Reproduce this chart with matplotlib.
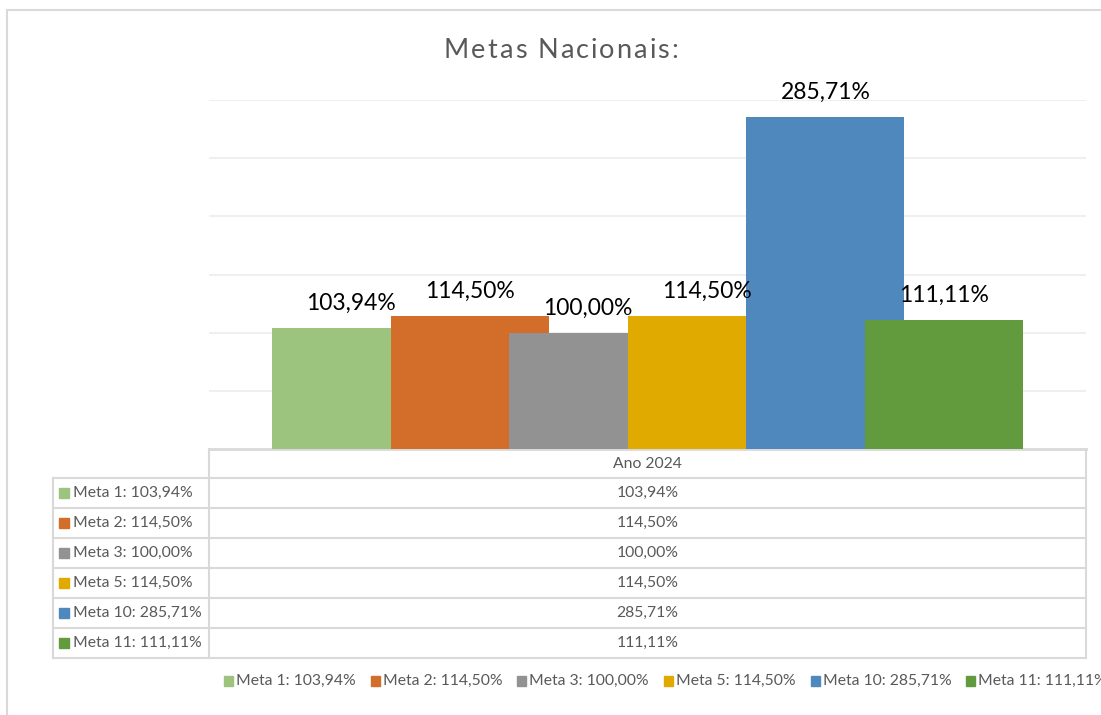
import matplotlib
matplotlib.use("Agg")
from matplotlib import pyplot as plt
from matplotlib.patches import Rectangle

plt.rcParams['font.family'] = ['Lato', 'DejaVu Sans']

metas = ['Meta 1', 'Meta 2', 'Meta 3', 'Meta 5', 'Meta 10', 'Meta 11']
valores = [103.94, 114.50, 100.00, 114.50, 285.71, 111.11]
cores = ['#9dc47f', '#d36e2a', '#929292', '#e1aa00', '#4f88bc', '#629a3e']
categoria = 'Ano 2024'
titulo = 'Metas Nacionais:'


def pct(v):
    return ('%.2f%%' % v).replace('.', ',')


W, H = 1101, 715
fig = plt.figure(figsize=(W / 100, H / 100), dpi=100)

# background axes in pixel coords for frame, table and legend
bg = fig.add_axes([0, 0, 1, 1])
bg.set_xlim(0, W)
bg.set_ylim(H, 0)
bg.axis('off')

# plot area
px_l, px_r, px_top, px_base = 209, 1086, 100, 449
ax = fig.add_axes([px_l / W, (H - px_base) / H, (px_r - px_l) / W, (px_base - px_top) / H])
ax.set_xlim(-0.5, 0.5)
ax.set_ylim(0, 300)
for s in ax.spines.values():
    s.set_visible(False)
ax.set_xticks([])
ax.set_yticks([50, 100, 150, 200, 250, 300])
ax.tick_params(axis='y', length=0, labelleft=False)
ax.grid(axis='y', color='#efefef', linewidth=1.5)
ax.set_axisbelow(True)
ax.patch.set_alpha(0)

n = len(valores)
largura = 0.18
passo = 0.1352
for i, (v, c) in enumerate(zip(valores, cores)):
    x = (i - (n - 1) / 2) * passo
    ax.bar(x, v, width=largura, color=c, zorder=2 + i)
for i, v in enumerate(valores):
    x = (i - (n - 1) / 2) * passo
    ax.annotate(pct(v), (x, v), xytext=(0, 13), textcoords='offset points',
                ha='center', va='baseline', fontsize=16.5, color='#000000', zorder=20)

fig.canvas.draw()
r = fig.canvas.get_renderer()

# title, with letter spacing
tchars = []
total = 0
for ch in titulo:
    t = bg.text(0, 51, ch, ha='left', va='center', fontsize=19.5, color='#595959')
    w = t.get_window_extent(r).width if ch != ' ' else 7
    tchars.append((t, w))
    total += w
esp = 2.0
total += esp * (len(titulo) - 1)
x = 561 - total / 2
for t, w in tchars:
    t.set_x(x)
    x += w + esp

# outer frame
linec = '#d9d9d9'
bg.plot([7, W], [10, 10], color=linec, lw=1.5)
bg.plot([7, 7], [10, H], color=linec, lw=1.5)

# data table
rows_y = [449, 478, 508, 538, 568, 598, 628, 658]
tl, tm, tr = 53, 209, 1086
bg.plot([tm, tr], [rows_y[0], rows_y[0]], color=linec, lw=2)
for y in rows_y[1:]:
    bg.plot([tl, tr], [y, y], color=linec, lw=1.5)
bg.plot([tm, tm], [rows_y[0], rows_y[-1]], color=linec, lw=1.5)
bg.plot([tr, tr], [rows_y[0], rows_y[-1]], color=linec, lw=1.5)
bg.plot([tl, tl], [rows_y[1], rows_y[-1]], color=linec, lw=1.5)

tc = '#595959'
fs = 11.3
bg.text((tm + tr) / 2, (rows_y[0] + rows_y[1]) / 2, categoria, ha='center', va='center',
        fontsize=fs, color=tc)
for i in range(n):
    yc = (rows_y[i + 1] + rows_y[i + 2]) / 2
    bg.add_patch(Rectangle((59, yc - 5), 10, 10, color=cores[i]))
    bg.text(73, yc, '%s: %s' % (metas[i], pct(valores[i])), ha='left', va='center',
            fontsize=fs, color=tc)
    bg.text((tm + tr) / 2, yc, pct(valores[i]), ha='center', va='center',
            fontsize=fs, color=tc)

# bottom legend
x = 224
ly = 681
for i in range(n):
    bg.add_patch(Rectangle((x, ly - 5), 9, 10, color=cores[i]))
    t = bg.text(x + 12, ly, '%s: %s' % (metas[i], pct(valores[i])), ha='left', va='center',
                fontsize=fs, color=tc)
    bb = t.get_window_extent(r)
    x = x + 12 + bb.width + 15

fig.savefig('out.png', dpi=100)
